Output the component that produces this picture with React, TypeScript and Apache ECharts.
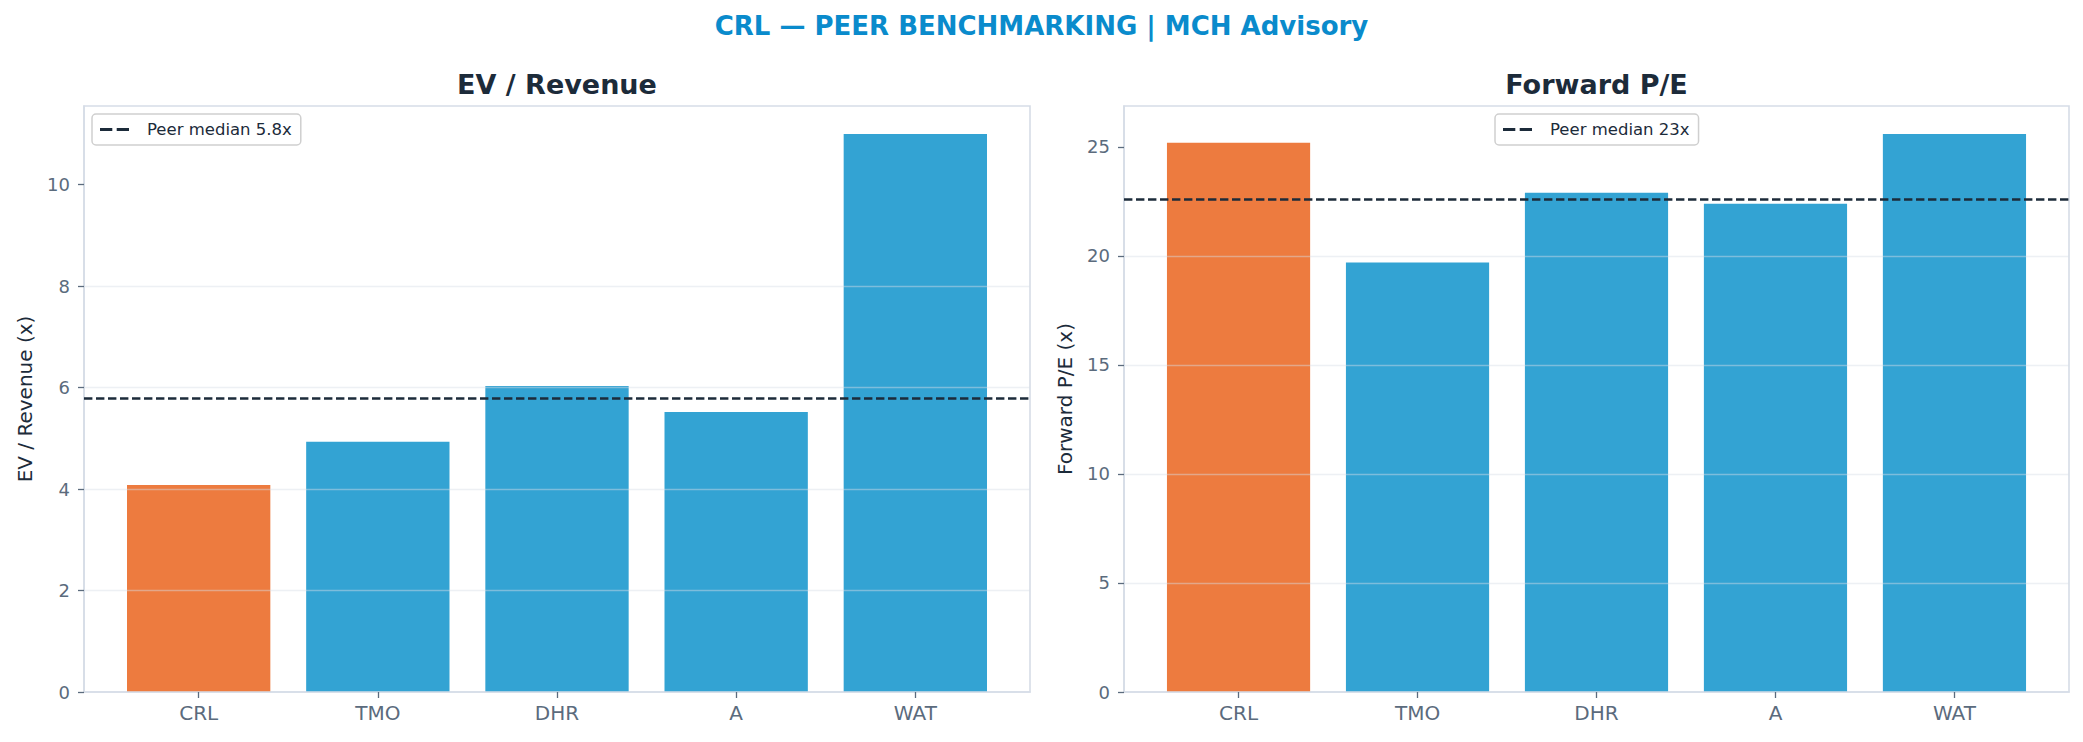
import React, { useEffect, useRef } from 'react';
import * as echarts from 'echarts';

const categories = ['CRL', 'TMO', 'DHR', 'A', 'WAT'];
const evRevenue = [4.08, 4.93, 6.03, 5.52, 11.0];
const forwardPE = [25.2, 19.7, 22.9, 22.4, 25.6];
const evMedian = 5.78;
const peMedian = 22.6;
const evTicks = [0, 2, 4, 6, 8, 10];
const peTicks = [0, 5, 10, 15, 20, 25];
const catTicks = [0, 1, 2, 3, 4];
const evMax = 11.55;
const peMax = 26.88;
const highlight = 'CRL';

const FONT = 'DejaVu Sans';
const ORANGE = '#ED7B3F';
const BLUE = '#33A3D3';
const NAVY = '#1C2B3A';
const SPINE = '#D6DDE7';
const TICK = '#5B6B7D';
const GRIDLINE = 'rgba(215,222,230,0.45)';
const DASH_ICON = 'path://M0,0h12.3v3h-12.3z M16.7,0h12.3v3h-12.3z';

const xAxisFor = (gridIndex: number) => ({
  type: 'value',
  gridIndex,
  min: -0.64,
  max: 4.64,
  z: 3,
  splitLine: { show: false },
  axisLine: { show: true, onZero: false, lineStyle: { color: SPINE, width: 1.6 } },
  axisTick: { show: true, customValues: catTicks, length: 6, lineStyle: { color: TICK, width: 1.3 } },
  axisLabel: {
    customValues: catTicks,
    formatter: (v: number) => categories[Math.round(v)] ?? '',
    color: TICK,
    fontSize: 20,
    fontFamily: FONT,
    margin: 11,
  },
});

const yAxisFor = (gridIndex: number, name: string, max: number, interval: number, ticks: number[]) => ({
  type: 'value',
  gridIndex,
  min: 0,
  max,
  interval,
  z: 3,
  name,
  nameLocation: 'middle',
  nameRotate: 90,
  nameGap: 49,
  nameTextStyle: { color: NAVY, fontSize: 20, fontFamily: FONT },
  axisLine: { show: true, onZero: false, lineStyle: { color: SPINE, width: 1.6 } },
  axisTick: { show: true, customValues: ticks, length: 6, lineStyle: { color: TICK, width: 1.3 } },
  axisLabel: { customValues: ticks, color: TICK, fontSize: 18, fontFamily: FONT, margin: 14 },
  splitLine: {
    show: true,
    showMinLine: false,
    showMaxLine: false,
    lineStyle: { color: GRIDLINE, width: 1.3 },
  },
});

const barsFor = (idx: number, values: number[]) => ({
  type: 'bar',
  xAxisIndex: idx,
  yAxisIndex: idx,
  barWidth: '80%',
  z: 2,
  data: categories.map((c, i) => ({
    value: [i, values[i]],
    itemStyle: { color: c === highlight ? ORANGE : BLUE },
  })),
});

const medianFor = (idx: number, name: string, value: number) => ({
  type: 'line',
  name,
  xAxisIndex: idx,
  yAxisIndex: idx,
  data: [],
  z: 5,
  itemStyle: { color: NAVY },
  lineStyle: { color: NAVY, type: [8.4, 3.6], width: 2.5 },
  markLine: {
    silent: true,
    symbol: 'none',
    label: { show: false },
    lineStyle: { color: NAVY, type: [8.4, 3.6], width: 2.5 },
    data: [{ yAxis: value }],
  },
});

const legendFor = (left: number, name: string) => ({
  left,
  top: 114,
  data: [{ name, icon: DASH_ICON }],
  selectedMode: false,
  itemWidth: 29,
  itemHeight: 3,
  padding: [7, 9, 7, 8],
  backgroundColor: '#ffffff',
  borderColor: '#CFCFCF',
  borderWidth: 1.5,
  borderRadius: 4,
  textStyle: { color: NAVY, fontSize: 16.5, fontFamily: FONT, padding: [0, 0, 0, 13] },
});

const titleText = (x: number, y: number, text: string, size: number, color: string) => ({
  type: 'text',
  x,
  y,
  style: {
    text,
    fill: color,
    font: `bold ${size}px "${FONT}"`,
    align: 'center',
    verticalAlign: 'middle',
  },
});

export default function App() {
  const chartRef = useRef<HTMLDivElement>(null);

  useEffect(() => {
    if (!chartRef.current) return;
    const chart = echarts.init(chartRef.current, null, { renderer: 'svg' });

    const evLabel = `Peer median ${evMedian.toFixed(1)}x`;
    const peLabel = `Peer median ${peMedian.toFixed(0)}x`;

    chart.setOption({
      animation: false,
      backgroundColor: '#ffffff',
      textStyle: { fontFamily: FONT },
      graphic: [
        titleText(1041.5, 26, 'CRL — PEER BENCHMARKING | MCH Advisory', 26, '#0A8BCC'),
        titleText(557, 84, 'EV / Revenue', 27, NAVY),
        titleText(1596.5, 84, 'Forward P/E', 27, NAVY),
      ],
      legend: [legendFor(92, evLabel), legendFor(1495, peLabel)],
      grid: [
        { left: 84, top: 106, width: 946, height: 586, show: true, borderColor: SPINE, borderWidth: 1.6, backgroundColor: 'transparent' },
        { left: 1124, top: 106, width: 945, height: 586, show: true, borderColor: SPINE, borderWidth: 1.6, backgroundColor: 'transparent' },
      ],
      xAxis: [xAxisFor(0), xAxisFor(1)],
      yAxis: [
        yAxisFor(0, 'EV / Revenue (x)', evMax, 2, evTicks),
        yAxisFor(1, 'Forward P/E (x)', peMax, 5, peTicks),
      ],
      series: [
        barsFor(0, evRevenue),
        barsFor(1, forwardPE),
        medianFor(0, evLabel, evMedian),
        medianFor(1, peLabel, peMedian),
      ],
    });

    return () => {
      chart.dispose();
    };
  }, []);

  return (
    <div
      ref={chartRef}
      style={{ position: 'fixed', left: 0, top: 0, width: 2083, height: 742 }}
    />
  );
}
